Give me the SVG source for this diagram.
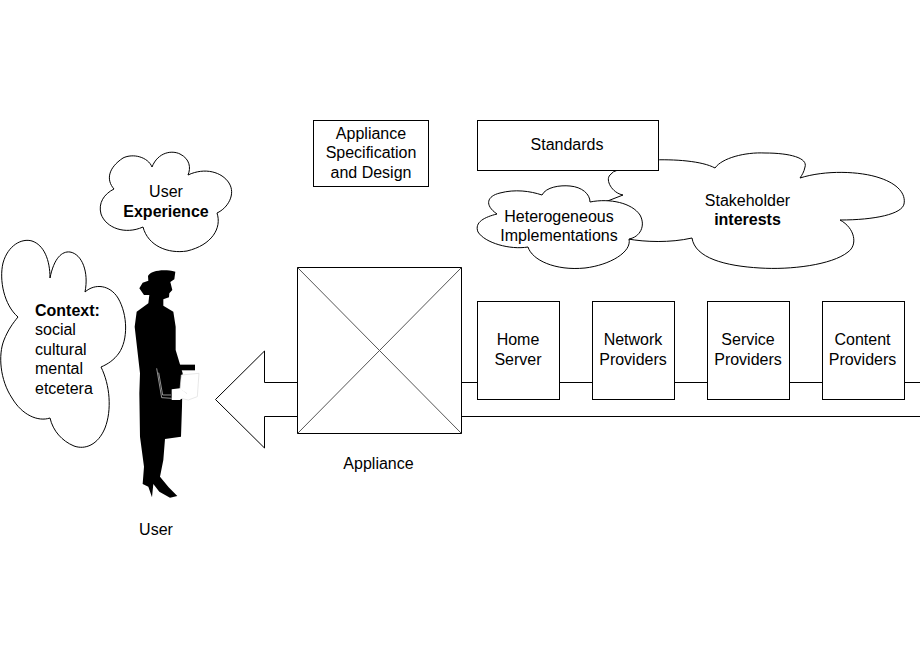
<svg xmlns="http://www.w3.org/2000/svg" width="920" height="660" viewBox="0 0 920 660">
<style>
.s{fill:#fff;stroke:#000;stroke-width:1;stroke-linejoin:miter}
.l{fill:none;stroke:#000;stroke-width:1}
.d{fill:none;stroke:#555;stroke-width:1}
text{font-family:"Liberation Sans",Arial,sans-serif;font-size:16px;fill:#000;text-anchor:middle}
.b{font-weight:bold}
.st{text-anchor:start}
</style>
<rect width="920" height="660" fill="#fff"/>
<g id="connectors">
<path class="l" d="M461.500 382.500H920M461.500 416.500H920"/>
</g>
<g id="arrow">
<path class="s" d="M297.500 382.500H264.500V351L215.500 399.500L264.500 448V416.500H297.500"/>
</g>
<g id="appliance">
<rect class="s" x="297.500" y="267.500" width="164" height="166"/>
<path class="d" d="M297.500 267.500L461.500 433.500M461.500 267.500L297.500 433.500"/>
<text x="378.500" y="469">Appliance</text>
</g>
<g id="home-server"><rect class="s" x="477.500" y="301.500" width="82" height="98"/><text x="518" y="345">Home</text><text x="518" y="365">Server</text></g>
<g id="network-providers"><rect class="s" x="592.500" y="301.500" width="82" height="98"/><text x="633" y="345">Network</text><text x="633" y="365">Providers</text></g>
<g id="service-providers"><rect class="s" x="707.500" y="301.500" width="82" height="98"/><text x="748" y="345">Service</text><text x="748" y="365">Providers</text></g>
<g id="content-providers"><rect class="s" x="822.500" y="301.500" width="82" height="98"/><text x="862.500" y="345">Content</text><text x="862.500" y="365">Providers</text></g>
<g id="spec"><rect class="s" x="313.500" y="120.500" width="115" height="66"/><text x="371" y="139">Appliance</text><text x="371" y="158">Specification</text><text x="371" y="178">and Design</text></g>
<g id="stakeholder">
<path class="s" d="M650 160C675 159 702 161 715 168C722 158 745 152 765 153C790 153 808 158 805 167C804 172 802 175 800 178C825 170 860 171 880 178C898 184 906 194 904 204C902 214 875 220 840 220C855 228 858 245 848 252C832 265 790 270 760 268C725 266 695 258 692 238C670 243 645 242 628 239L605 202L623 195C612 193 605 180 610 175Q613 171 618 170Z"/>
<text x="747.500" y="206">Stakeholder</text><text x="747.500" y="225" class="b">interests</text>
</g>
<g id="standards"><rect class="s" x="477.500" y="120.500" width="181" height="50"/><text x="567" y="150">Standards</text></g>
<g id="heterogeneous">
<path class="s" d="M497 214C484 205 487 196 500 193C515 189 530 191 542 195C546 187 560 185 570 186C582 187 590 194 590 202C610 198 632 203 640 215C646 226 640 237 629 239C632 252 610 265 585 268C555 271 532 260 528 247C510 250 485 243 478 232C474 222 485 217 497 214Z"/>
<text x="559" y="222">Heterogeneous</text><text x="559" y="241">Implementations</text>
</g>
<g id="user-experience">
<path class="s" d="M114 189C106 180 108 168 123 158C133 153 148 157 152 167C158 152 172 150 180 154C190 159 191 168 188 175C205 167 222 172 229 183C236 194 228 208 217 213C222 228 212 245 187 251C168 254 148 246 143 227C125 235 106 228 101 214C98 203 104 194 114 189Z"/>
<text x="166" y="197">User</text><text x="166" y="217" class="b">Experience</text>
</g>
<g id="context">
<path class="s" d="M18 317C4 305 -1 280 3 263C8 245 22 238 32 241C44 245 50 260 50 278C54 258 62 251 70 252C82 254 89 272 85 292C95 283 110 285 118 298C128 315 128 340 119 353C114 360 108 364 101 367C110 385 112 410 105 428C98 445 85 450 74 446C62 441 53 431 50 418C38 422 22 415 12 398C0 380 -2 355 4 340C8 330 13 323 18 317Z"/>
<text x="35" y="316" class="b st">Context:</text>
<text x="35" y="335" class="st">social</text><text x="35" y="355" class="st">cultural</text><text x="35" y="374" class="st">mental</text><text x="35" y="394" class="st">etcetera</text>
</g>
<g id="user">
<g transform="translate(120 260) scale(.3333)">
<path fill="#000" d="M84 48C92 32 130 26 166 35L163 58L151 66L157 90L148 100L147 112L130 118L130 137L160 155L167 200L167 270L188 340L186 440L183 530L135 537L130 600L120 650L146 682L172 708L150 713L118 695L100 672L96 712L85 680L68 672L72 620L60 530L58 400L60 340L44 200L50 155L85 130L88 105L72 105L58 85L68 68L85 62Z"/>
<path fill="#000" d="M178 314H225V331H178Z"/>
<path fill="#fff" stroke="#ddd" stroke-width="2" d="M184 345L237 340L232 410L205 420L182 415L200 400L180 388Z"/>
<path fill="#fff" d="M155 388L180 385L200 402L180 420H155Z"/>
<path fill="none" stroke="#ddd" stroke-width="2" d="M110 325L125 413L155 415M116 338L128 405H153"/>
</g>
<text x="156" y="535">User</text>
</g>
</svg>
